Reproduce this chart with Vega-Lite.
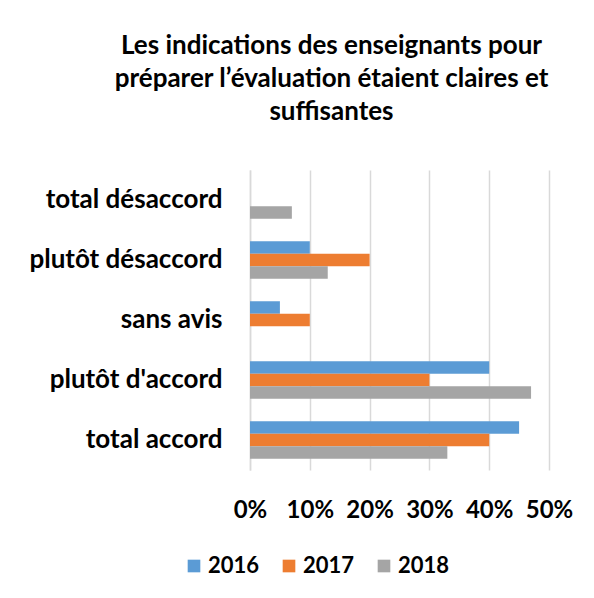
{
  "$schema": "https://vega.github.io/schema/vega-lite/v6.json",
  "autosize": {"type": "none"},
  "padding": {"left": 250, "top": 170, "right": 45, "bottom": 128},
  "width": 299,
  "height": 300,
  "background": "white",
  "config": {
    "font": "Lato",
    "view": {"stroke": null}
  },
  "title": {
    "text": ["Les indications des enseignants pour", "préparer l’évaluation étaient claires et", "suffisantes"],
    "font": "Lato",
    "fontSize": 26,
    "fontWeight": "bold",
    "color": "#000000",
    "anchor": "middle",
    "frame": "group",
    "dx": -68,
    "lineHeight": 33,
    "offset": 45
  },
  "data": {
    "values": [
      {"cat": "total désaccord", "year": "2016", "v": 0},
      {"cat": "total désaccord", "year": "2017", "v": 0},
      {"cat": "total désaccord", "year": "2018", "v": 0.07},
      {"cat": "plutôt désaccord", "year": "2016", "v": 0.10},
      {"cat": "plutôt désaccord", "year": "2017", "v": 0.20},
      {"cat": "plutôt désaccord", "year": "2018", "v": 0.13},
      {"cat": "sans avis", "year": "2016", "v": 0.05},
      {"cat": "sans avis", "year": "2017", "v": 0.10},
      {"cat": "sans avis", "year": "2018", "v": 0},
      {"cat": "plutôt d'accord", "year": "2016", "v": 0.40},
      {"cat": "plutôt d'accord", "year": "2017", "v": 0.30},
      {"cat": "plutôt d'accord", "year": "2018", "v": 0.47},
      {"cat": "total accord", "year": "2016", "v": 0.45},
      {"cat": "total accord", "year": "2017", "v": 0.40},
      {"cat": "total accord", "year": "2018", "v": 0.33}
    ]
  },
  "mark": {"type": "bar"},
  "encoding": {
    "y": {
      "field": "cat",
      "type": "nominal",
      "sort": ["total désaccord", "plutôt désaccord", "sans avis", "plutôt d'accord", "total accord"],
      "scale": {"paddingInner": 0.375, "paddingOuter": 0.1875},
      "axis": {
        "title": null,
        "ticks": false,
        "domainColor": "#D9D9D9",
        "domainWidth": 1.5,
        "labelFont": "Lato",
        "labelFontSize": 26,
        "labelFontWeight": "bold",
        "labelColor": "#000000",
        "labelPadding": 28,
        "labelLimit": 400
      }
    },
    "x": {
      "field": "v",
      "type": "quantitative",
      "scale": {"domain": [0, 0.5], "nice": false},
      "axis": {
        "title": null,
        "format": ".0%",
        "values": [0, 0.1, 0.2, 0.3, 0.4, 0.5],
        "ticks": false,
        "domain": false,
        "grid": true,
        "gridColor": "#D9D9D9",
        "gridWidth": 1.5,
        "labelFont": "Lato",
        "labelFontSize": 24,
        "labelFontWeight": "bold",
        "labelColor": "#000000",
        "labelPadding": 28,
        "labelFlush": false
      }
    },
    "yOffset": {
      "field": "year",
      "type": "nominal",
      "sort": ["2016", "2017", "2018"],
      "scale": {"paddingInner": 0, "paddingOuter": 0}
    },
    "color": {
      "field": "year",
      "type": "nominal",
      "scale": {"domain": ["2016", "2017", "2018"], "range": ["#5B9BD5", "#ED7D31", "#A5A5A5"]},
      "legend": {
        "title": null,
        "orient": "none",
        "direction": "horizontal",
        "legendX": -67,
        "legendY": 385,
        "padding": 0,
        "symbolType": "square",
        "symbolSize": 160,
        "symbolStrokeWidth": 0,
        "labelFont": "Lato",
        "labelFontSize": 22,
        "labelFontWeight": "bold",
        "labelColor": "#000000",
        "labelOffset": 3,
        "columnPadding": 18
      }
    }
  }
}
